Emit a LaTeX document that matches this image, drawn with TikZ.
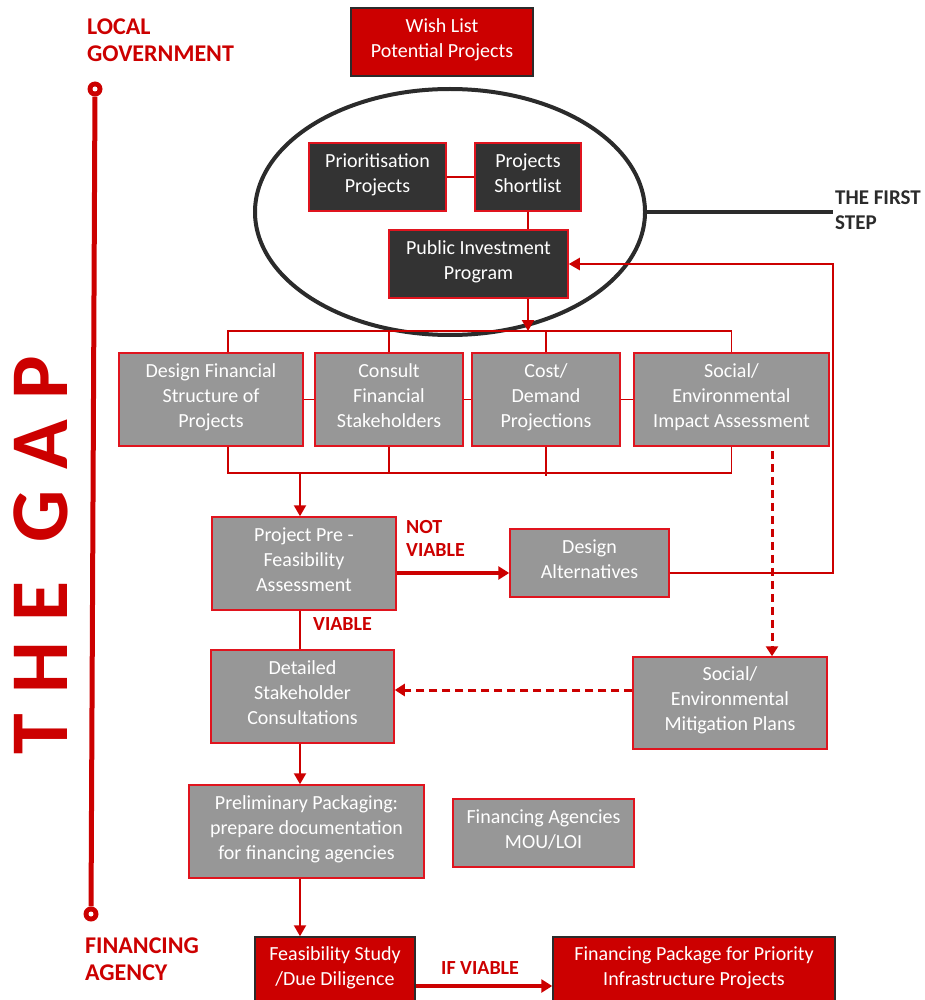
\documentclass[tikz,border=0pt]{standalone}
\usepackage{fontspec}
\setmainfont{Carlito}
\usetikzlibrary{arrows.meta,calc,shapes.geometric}
\definecolor{gred}{HTML}{CC0000}
\definecolor{bred}{HTML}{E0141E}
\definecolor{gbox}{HTML}{979797}
\definecolor{dbox}{HTML}{333333}
\definecolor{dk}{HTML}{2B2B2B}
\newcommand\boxstrut{\rule[-8pt]{0pt}{27pt}}
\tikzset{
  box/.style={draw=bred, line width=1.5pt, align=center, text=white, inner sep=0pt,
    font=\fontsize{20}{25}\selectfont,
    execute at begin node=\boxstrut, execute at end node=\boxstrut},
  graybox/.style={box, fill=gbox},
  darkbox/.style={box, fill=dbox},
  redbox/.style={box, fill=gred, draw=dk},
  thinred/.style={draw=gred, line width=1.2pt},
  midred/.style={draw=gred, line width=2.2pt},
  flow/.style={draw=gred, line width=2.2pt, -{Triangle[length=11pt,width=12pt]}},
  bigflow/.style={draw=gred, line width=3.5pt, -{Triangle[length=11pt,width=13pt]}},
  dashflow/.style={draw=gred, line width=3pt, dash pattern=on 8pt off 5pt, -{Triangle[length=10pt,width=12pt]}},
  lbl/.style={text=gred, font=\bfseries\fontsize{20}{23}\selectfont, align=left, inner sep=0pt},
  sidelbl/.style={text=gred, font=\bfseries\fontsize{24}{27}\selectfont, align=left, inner sep=0pt},
  gapdot/.style={circle, fill=gred, minimum size=15pt, inner sep=0pt},
}
\begin{document}
\begin{tikzpicture}[x=1pt,y=-1pt]
\useasboundingbox (0,0) rectangle (924,1000);

% left side: the gap
\node[sidelbl, anchor=north west] (lg) at (87,19) {LOCAL\\GOVERNMENT};
\node[sidelbl, anchor=north west] (fa) at (85,938) {FINANCING\\AGENCY};
\node[gapdot] (gt) at (95,89) {};
\node[gapdot] (gb) at (91,914) {};
\draw[gred, line width=5pt] (gt) -- (gb);
\fill[white] (gt.center) circle (2.5);
\fill[white] (gb.center) circle (2.5);
\node[rotate=90, text=gred, inner sep=0pt,
  font=\bfseries\fontsize{82}{82}\selectfont\addfontfeature{LetterSpace=25}] (gap) at (41,555) {THE GAP};

% top
\node[redbox, minimum width=182pt, minimum height=68pt] (wish) at (442,42) {Wish List\\Potential Projects};
\node[draw=dk, line width=4pt, ellipse, minimum width=390pt, minimum height=246pt, inner sep=0pt] (ell) at (450,212) {};
\node[darkbox, minimum width=137pt, minimum height=68pt] (prio) at (377.5,177) {Prioritisation\\Projects};
\node[darkbox, minimum width=106pt, minimum height=68pt] (short) at (528,177) {Projects\\Shortlist};
\node[darkbox, minimum width=179pt, minimum height=68pt] (pip) at (478.5,264) {Public Investment\\Program};
\node[anchor=west, inner sep=2pt, text=dk, align=left, font=\bfseries\fontsize{21}{25}\selectfont] (fs) at (833,210) {THE FIRST\\STEP};

% middle row
\node[graybox, minimum width=184pt, minimum height=93pt] (df) at (211,399.5) {Design Financial\\Structure of\\Projects};
\node[graybox, minimum width=148pt, minimum height=93pt] (consult) at (389,399.5) {Consult\\Financial\\Stakeholders};
\node[graybox, minimum width=148pt, minimum height=93pt] (cost) at (546,399.5) {Cost/\\Demand\\Projections};
\node[graybox, minimum width=195pt, minimum height=93pt] (social) at (731.5,399.5) {Social/\\Environmental\\Impact Assessment};

% lower part
\node[graybox, minimum width=184pt, minimum height=93pt] (prefeas) at (304,563.5) {Project Pre -\\Feasibility\\Assessment};
\node[graybox, minimum width=159pt, minimum height=68pt] (da) at (589.5,563) {Design\\Alternatives};
\node[graybox, minimum width=183pt, minimum height=93pt] (detailed) at (302.5,696.5) {Detailed\\Stakeholder\\Consultations};
\node[graybox, minimum width=194pt, minimum height=92pt] (mitig) at (730,703) {Social/\\Environmental\\Mitigation Plans};
\node[graybox, minimum width=235pt, minimum height=93pt] (prelim) at (306.5,831.5) {Preliminary Packaging:\\prepare documentation\\for financing agencies};
\node[graybox, minimum width=181pt, minimum height=68pt] (finag) at (543.5,833) {Financing Agencies\\MOU/LOI};
\node[redbox, minimum width=160pt, minimum height=66pt] (feas) at (335,970) {Feasibility Study\\/Due Diligence};
\node[redbox, minimum width=282pt, minimum height=66pt] (pack) at (694,970) {Financing Package for Priority\\Infrastructure Projects};

% labels
\node[lbl, anchor=north west] (nv) at (406,520) {NOT\\VIABLE};
\node[lbl, anchor=north west] (v) at (313,617) {VIABLE};
\node[lbl, anchor=north west] (iv) at (441,961) {IF VIABLE};

% helper coordinates
\coordinate (bt) at (0,331);
\coordinate (bb) at (0,473);
\coordinate (col) at (300,0);
\coordinate (fb) at (833,0);
\coordinate (dx) at (772,0);
\coordinate (dy) at (0,690);
\coordinate (ry) at (0,573);
\coordinate (fy) at (0,986);

% first step connector
\draw[dk, line width=4pt] (ell.east) -- (ell.east -| fs.west);

% inside the ellipse
\draw[thinred] (prio.east) -- (short.west);
\draw[midred] (short.south) -- (short.south |- pip.north);
\draw[flow] (short.south |- pip.south) -- (short.south |- bt);

% top bus
\draw[thinred] ($(df.north)+(17,0)$) |- (social.north |- bt) -- (social.north);
\draw[thinred] (consult.north) -- (consult.north |- bt);
\draw[thinred] (cost.north) -- (cost.north |- bt);
% links between boxes
\draw[thinred] (df.east) -- (consult.west);
\draw[thinred] (consult.east) -- (cost.west);
\draw[thinred] (cost.east) -- (social.west);
% bottom bus
\draw[thinred] ($(df.south)+(17,0)$) |- (social.south |- bb) -- (social.south);
\draw[thinred] (consult.south) -- (consult.south |- bb);
\draw[thinred] (cost.south) -- ($(cost.south |- bb)+(0,3)$);
\draw[flow] (col |- bb) -- (col |- prefeas.north);

% not viable loop
\draw[bigflow] (prefeas.east |- ry) -- (da.west |- ry);
\draw[midred, -{Triangle[length=11pt,width=12pt]}] (da.east |- ry) -- (fb |- ry) -- (fb |- pip.east) -- (pip.east);

% viable path
\draw[midred] (col |- prefeas.south) -- (col |- detailed.north);
\draw[flow] (col |- detailed.south) -- (col |- prelim.north);
\draw[flow] (col |- prelim.south) -- (col |- feas.north);
\draw[bigflow] (feas.east |- fy) -- (pack.west |- fy);

% dashed
\draw[dashflow] ($(dx |- social.south)+(0,4)$) -- (dx |- mitig.north);
\draw[dashflow] (mitig.west |- dy) -- (detailed.east |- dy);
\end{tikzpicture}
\end{document}
